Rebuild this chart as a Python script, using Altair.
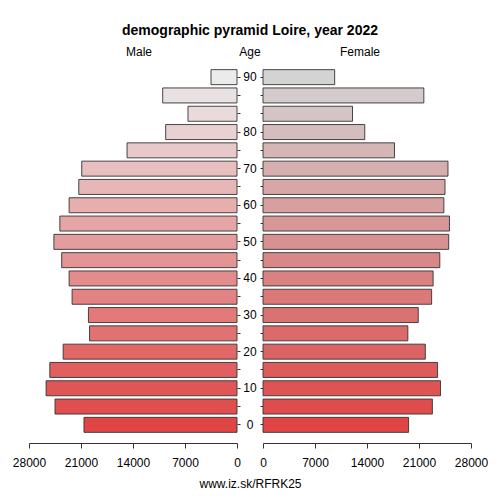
import altair as alt
import pandas as pd

ages = ["0", "5", "10", "15", "20", "25", "30", "35", "40", "45", "50",
        "55", "60", "65", "70", "75", "80", "85", "87", "90"]
male = [20600, 24500, 25700, 25200, 23400, 19850, 20000, 22200, 22600, 23600,
        24650, 23850, 22600, 21300, 20900, 14800, 9600, 6600, 10000, 3500]
female = [19600, 22800, 23900, 23500, 21850, 19500, 20900, 22700, 22900, 23800,
          25000, 25100, 24350, 24500, 24900, 17700, 13700, 12050, 21650, 9650]
shown_labels = ["0", "10", "20", "30", "40", "50", "60", "70", "80", "90"]
x_ticks = [0, 7000, 14000, 21000, 28000]

df = pd.DataFrame({"age": ages, "male": male, "female": female,
                   "idx": list(range(len(ages)))})

FONT = "Liberation Sans"
order = list(reversed(ages))

W = 208
MID = 26
H = 366
band = alt.Scale(paddingInner=0.18, paddingOuter=0.09)


def panel_title(text, dx):
    return alt.TitleParams(text, fontSize=12, fontWeight="normal", dx=dx,
                           offset=9, color="#000000")


def x_axis(**extra):
    return alt.Axis(values=x_ticks, format="d", grid=False, tickSize=5,
                    labelPadding=9, offset=9, domainColor="#333333",
                    tickColor="#333333", labelFontSize=12, labelColor="#000000",
                    labelFlush=False, labelOverlap=False, **extra)


male_chart = alt.Chart(df).mark_bar(stroke="#333333", strokeWidth=0.9).encode(
    x=alt.X("male:Q",
            scale=alt.Scale(domain=[0, 28000], reverse=True, nice=False, zero=True),
            axis=x_axis(title="www.iz.sk/RFRK25", titleFontSize=12,
                        titleFontWeight="normal", titleX=221, titleY=40,
                        titleAlign="center", titleBaseline="middle",
                        titleColor="#000000")),
    y=alt.Y("age:N", sort=order, scale=band,
            axis=alt.Axis(orient="right", domain=False, tickSize=3,
                          tickColor="#333333", labels=False, title=None)),
    color=alt.Color("idx:Q", scale=alt.Scale(domain=[0, 19], interpolate="rgb",
                    range=["#df4545", "#ebebeb"]), legend=None),
).properties(width=W, height=H, title=panel_title("Male", 6))

age_chart = alt.Chart(df).transform_filter(
    alt.FieldOneOfPredicate(field="age", oneOf=shown_labels)
).mark_text(fontSize=12, color="#000000", align="center", baseline="middle").encode(
    y=alt.Y("age:N", sort=order, scale=band, axis=None),
    x=alt.value(MID / 2),
    text="age:N",
).properties(width=MID, height=H, title=panel_title("Age", 0))

female_chart = alt.Chart(df).mark_bar(stroke="#333333", strokeWidth=0.9).encode(
    x=alt.X("female:Q",
            scale=alt.Scale(domain=[0, 28000], nice=False, zero=True),
            axis=x_axis(title=None)),
    y=alt.Y("age:N", sort=order, scale=band,
            axis=alt.Axis(orient="left", domain=False, tickSize=3,
                          tickColor="#333333", labels=False, title=None)),
    color=alt.Color("idx:Q", scale=alt.Scale(domain=[0, 19], interpolate="rgb",
                    range=["#df4545", "#d3d3d3"]), legend=None),
).properties(width=W, height=H, title=panel_title("Female", -7))

chart = alt.hconcat(male_chart, age_chart, female_chart, spacing=0,
                    bounds="flush").resolve_scale(
    color="independent", y="shared"
).properties(
    title=alt.TitleParams("demographic pyramid Loire, year 2022", fontSize=14,
                          fontWeight="bold", anchor="middle", offset=8,
                          color="#000000"),
    padding={"left": 4, "top": 16, "right": 0, "bottom": 0},
).configure(font=FONT).configure_view(stroke=None)

chart.save("out.html", embed_options={"renderer": "svg", "actions": False})
